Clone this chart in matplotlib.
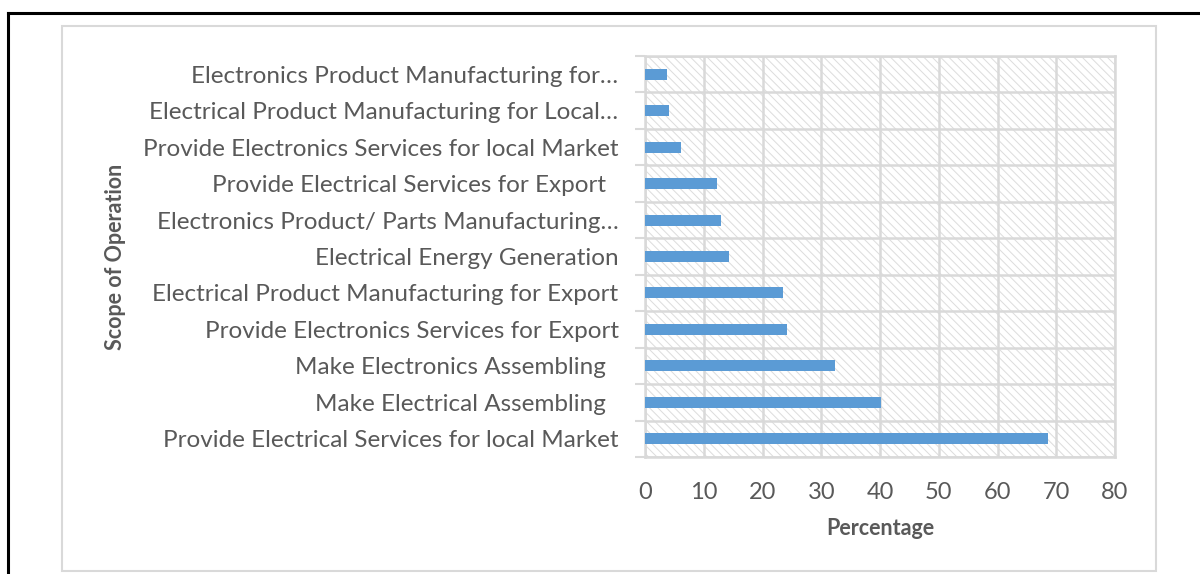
import matplotlib
matplotlib.use("Agg")
import matplotlib.pyplot as plt
from matplotlib.patches import Rectangle
from matplotlib.lines import Line2D
import numpy as np

# Zakres działalności - odsetek firm
categories = [
    "Provide Electrical Services for local Market",
    "Make Electrical Assembling  ",
    "Make Electronics Assembling  ",
    "Provide Electronics Services for Export",
    "Electrical Product Manufacturing for Export",
    "Electrical Energy Generation",
    "Electronics Product/ Parts Manufacturing…",
    "Provide Electrical Services for Export  ",
    "Provide Electronics Services for local Market",
    "Electrical Product Manufacturing for Local…",
    "Electronics Product Manufacturing for…",
]
values = [68.6, 40.1, 32.3, 24.2, 23.5, 14.3, 12.9, 12.3, 6.1, 4.1, 3.7]
x_ticks = [0, 10, 20, 30, 40, 50, 60, 70, 80]

text_color = "#595959"
grid_color = "#d9d9d9"
bar_color = "#5b9bd5"

plt.rcParams["font.family"] = ["Lato", "DejaVu Sans"]
plt.rcParams["hatch.linewidth"] = 0.7

W, H = 1200, 574
fig = plt.figure(figsize=(W / 100, H / 100), dpi=100)

# ramka dokumentu (czarna) i obramowanie wykresu (szare)
fig.add_artist(Line2D([8 / W, 1], [1 - 13 / H, 1 - 13 / H], color="black", lw=2.2))
fig.add_artist(Line2D([8 / W, 8 / W], [0, 1 - 13 / H], color="black", lw=2.2))
fig.add_artist(Rectangle((62 / W, 1 - 571 / H), (1156 - 62) / W, (571 - 26) / H,
                         facecolor="none", edgecolor=grid_color, lw=1.5))

ax = fig.add_axes([645 / W, 1 - 457 / H, (1115 - 645) / W, (457 - 56) / H])

# tło z ukośnym kreskowaniem
ax.add_patch(Rectangle((0, 0), 1, 1, transform=ax.transAxes, facecolor="white",
                       edgecolor="#dcdcdc", hatch="\\\\\\\\", lw=0, zorder=0))

y = np.arange(len(categories))
ax.barh(y, values, height=0.3, color=bar_color, zorder=3)

ax.set_xlim(0, 80)
ax.set_ylim(-0.5, len(categories) - 0.5)
ax.set_xticks(x_ticks)
ax.set_xticklabels([str(t) for t in x_ticks])
ax.set_yticks(y)
ax.set_yticklabels(categories)
ax.set_yticks(np.arange(-0.5, len(categories), 1), minor=True)

ax.tick_params(axis="x", length=0, pad=18, labelsize=17, labelcolor=text_color)
ax.tick_params(axis="y", which="major", length=0, pad=19, labelsize=17.5, labelcolor=text_color)
ax.tick_params(axis="y", which="minor", length=7, width=1.5, color=grid_color)

ax.grid(axis="x", color=grid_color, lw=1.8, zorder=1)
ax.grid(axis="y", which="minor", color=grid_color, lw=1.8, zorder=1)
ax.set_axisbelow(True)
for s in ax.spines.values():
    s.set_color(grid_color)
    s.set_linewidth(1.8)

ax.set_xlabel("Percentage", fontsize=15.5, fontweight="bold", color=text_color, labelpad=11)
fig.text(115 / W, 1 - 257 / H, "Scope of Operation", rotation=90, fontsize=15.5,
         fontweight="bold", color=text_color, ha="center", va="center")

fig.savefig("out.png", dpi=100)
